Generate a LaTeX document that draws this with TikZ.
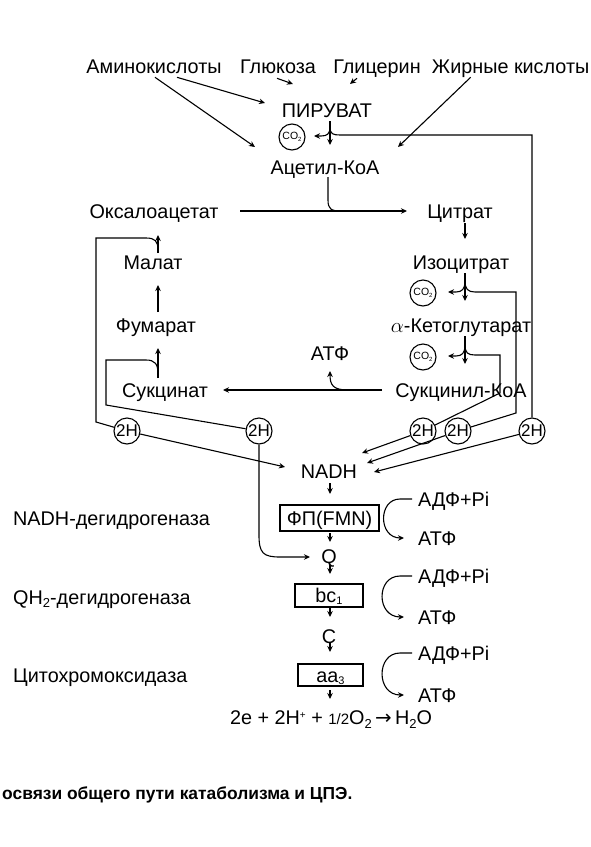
\documentclass[tikz,border=0pt]{standalone}
\usepackage{fontspec}
\setmainfont{Liberation Sans}
\newfontfamily\djv{DejaVu Sans}
\usetikzlibrary{arrows.meta}
\begin{document}
\begin{tikzpicture}[x=1pt,y=-1pt,
  lbl/.style={inner sep=0pt, font=\fontsize{19.8}{22}\selectfont, text height=14.2pt, text depth=0pt},
  ln/.style={line width=1.1pt},
  arr/.style={ln,-{Stealth[length=6pt,width=5.5pt]}},
  circ/.style={circle, draw, line width=1.1pt, minimum size=26pt, inner sep=0pt},
  hh/.style={circ, font=\fontsize{17}{17}\selectfont},
  co/.style={circ, font=\fontsize{10.5}{10.5}\selectfont},
  ebox/.style={draw, line width=1.1pt, inner sep=0pt, font=\fontsize{19.8}{22}\selectfont, text height=14.2pt, text depth=0pt}
]
\fill[white] (0,0) rectangle (590,847);
\useasboundingbox (0,0) rectangle (590,847);

% ---- top substrates
\node[lbl] (amino) at (154,66) {Аминокислоты};
\node[lbl] (gluc) at (278,66) {Глюкоза};
\node[lbl] (glyc) at (377,66) {Глицерин};
\node[lbl, anchor=east] (fat) at (589.5,66) {Жирные кислоты};
\node[lbl] (pyr) at (327,110) {ПИРУВАТ};
\node[co] (co2a) at (292,137) {CO\raisebox{-1.5pt}{\fontsize{6}{6}\selectfont 2}};
\node[lbl] (acet) at (325,167) {Ацетил-КоА};

% ---- cycle
\node[lbl] (oaa) at (154,211) {Оксалоацетат};
\node[lbl] (cit) at (460,211) {Цитрат};
\node[lbl] (iso) at (461,262) {Изоцитрат};
\node[co] (co2b) at (423,293) {CO\raisebox{-1.5pt}{\fontsize{6}{6}\selectfont 2}};
\node[lbl] (akg) at (461,325) {$\alpha$-Кетоглутарат};
\node[co] (co2c) at (423,357) {CO\raisebox{-1.5pt}{\fontsize{6}{6}\selectfont 2}};
\node[lbl] (sca) at (461,390) {Сукцинил-КоА};
\node[lbl] (atp0) at (330,353) {АТФ};
\node[lbl] (succ) at (165,390) {Сукцинат};
\node[lbl] (fum) at (156,325) {Фумарат};
\node[lbl] (mal) at (153,262) {Малат};

% ---- 2H
\node[hh] (h1) at (127,431) {2H};
\node[hh] (h2) at (259,431) {2H};
\node[hh] (h3) at (423,431) {2H};
\node[hh] (h4) at (458,431) {2H};
\node[hh] (h5) at (532,431) {2H};

% ---- respiratory chain
\node[lbl] (nadh) at (329,471) {NADH};
\node[ebox, minimum width=99pt, minimum height=26pt] (fp) at (329.5,518) {ФП(FMN)};
\node[lbl] (q) at (329,556) {Q};
\node[ebox, minimum width=68pt, minimum height=23pt] (bc) at (329,595.5) {bc\raisebox{-2pt}{\fontsize{11}{11}\selectfont 1}};
\node[lbl] (c) at (329,636) {C};
\node[ebox, minimum width=65pt, minimum height=22pt] (aa) at (330.5,675) {aa\raisebox{-2pt}{\fontsize{11}{11}\selectfont 3}};
\node[lbl] (eq) at (331,717) {2e + 2H\raisebox{6pt}{\fontsize{10}{10}\selectfont +} + {\fontsize{15}{15}\selectfont 1/2}O\raisebox{-4pt}{\fontsize{13}{13}\selectfont 2}\,{\djv →}\,H\raisebox{-4pt}{\fontsize{13}{13}\selectfont 2}O};

\node[lbl, anchor=west] (l1) at (13,518) {NADH-дегидрогеназа};
\node[lbl, anchor=west] (l2) at (13,597) {QH\raisebox{-3pt}{\fontsize{13}{13}\selectfont 2}-дегидрогеназа};
\node[lbl, anchor=west] (l3) at (13,675) {Цитохромоксидаза};

\node[lbl, anchor=west] (adp1) at (418,499) {АДФ+Pi};
\node[lbl, anchor=west] (atp1) at (418,538) {АТФ};
\node[lbl, anchor=west] (adp2) at (418,576) {АДФ+Pi};
\node[lbl, anchor=west] (atp2) at (418,617) {АТФ};
\node[lbl, anchor=west] (adp3) at (418,653) {АДФ+Pi};
\node[lbl, anchor=west] (atp3) at (418,695) {АТФ};

\node[inner sep=0pt, anchor=west, font=\fontsize{17.4}{20}\selectfont\bfseries] (cap) at (2,795) {освязи общего пути катаболизма и ЦПЭ.};

% ---- named arrow ends
\coordinate (tPyr) at (265,103);
\coordinate (tGl) at (293,84);
\coordinate (tGc) at (350,84);
\coordinate (tAcL) at (255,147);
\coordinate (tAcR) at (398,147);
\coordinate (tCo1) at (314,136);
\coordinate (tN1) at (285,467);
\coordinate (tN2) at (362,453);
\coordinate (tN3) at (367,463);
\coordinate (tN4) at (374,472);
\coordinate (tQ) at (310,557);

% ---- top arrows
\draw[arr] ([xshift=23pt,yshift=-4pt]amino.south) -- (tPyr);
\draw[arr] ([xshift=1pt,yshift=-4pt]amino.south) -- (tAcL);
\draw[arr] ([xshift=-1pt,yshift=-5pt]gluc.south) -- (tGl);
\draw[arr] ([xshift=-20pt,yshift=-5pt]glyc.south) -- (tGc);
\draw[arr] ([xshift=-40pt,yshift=-4pt]fat.south) -- (tAcR);

% pyruvate fork
\draw[arr] (330,121) -- (330,145);
\draw[arr] (330,127) .. controls (330,134) and (327,136) .. (321,136) -- (tCo1);
\draw[ln] (330,127) .. controls (330,134) and (333,135) .. (340,135) -- (532,135) -- (h5);

% acetyl-CoA into cycle
\draw[ln] (328,177) -- (328,200) .. controls (328,209) and (331,211) .. (341,211);
\draw[arr] (240,211) -- (407,211);

% right side of cycle
\draw[arr] (465,223) -- (465,239);
\draw[arr] (465,273) -- (465,301);
\draw[arr] (465,281) .. controls (465,289) and (462,292) .. (456,292) -- (448,292);
\draw[ln] (465,281) .. controls (465,289) and (468,292) .. (475,292) -- (516,292) -- (516,413) -- (h4);
\draw[arr] (465,336) -- (465,364);
\draw[arr] (465,345) .. controls (465,353) and (462,356) .. (456,356) -- (448,356);
\draw[ln] (465,345) .. controls (465,353) and (468,355) .. (475,355) -- (500,355) -- (500,393) -- (h3);

% bottom of cycle
\draw[arr] (382,390) -- (223,390);
\draw[arr] (348,390) .. controls (333,390) and (330,385) .. (330,371);

% left side of cycle
\draw[arr] (158,253) -- (158,235);
\draw[ln] (158,250) .. controls (158,241) and (155,238) .. (146,238) -- (96,238) -- (96,422) -- (h1);
\draw[arr] (158,312) -- (158,285);
\draw[arr] (158,378) -- (158,348);
\draw[ln] (158,374) .. controls (158,364) and (155,360) .. (146,360) -- (106,360) -- (106,405) -- (h2);

% 2H to chain
\draw[arr] (h1) -- (tN1);
\draw[arr] (h2.south) -- (259,535) .. controls (259,553) and (263,557) .. (280,557) -- (tQ);
\draw[arr] (h3) -- (tN2);
\draw[arr] (h4) -- (tN3);
\draw[arr] (h5) -- (tN4);

% chain arrows
\draw[arr] (330,483) -- (330,494);
\draw[arr] (330,533) -- (330,542);
\draw[arr] (330,565) -- (330,574);
\draw[arr] (330,608) -- (330,617);
\draw[arr] (330,643) -- (330,652);
\draw[arr] (330,690) -- (330,699);

% phosphorylation
\draw[arr] ([xshift=-6pt]adp1.west) -- (400,499) .. controls (378,499) and (378,538) .. ([xshift=-14pt]atp1.west);
\draw[arr] ([xshift=-6pt]adp2.west) -- (400,576) .. controls (376,576) and (376,617) .. ([xshift=-14pt]atp2.west);
\draw[arr] ([xshift=-6pt]adp3.west) -- (400,653) .. controls (376,653) and (376,695) .. ([xshift=-14pt]atp3.west);
\end{tikzpicture}
\end{document}
